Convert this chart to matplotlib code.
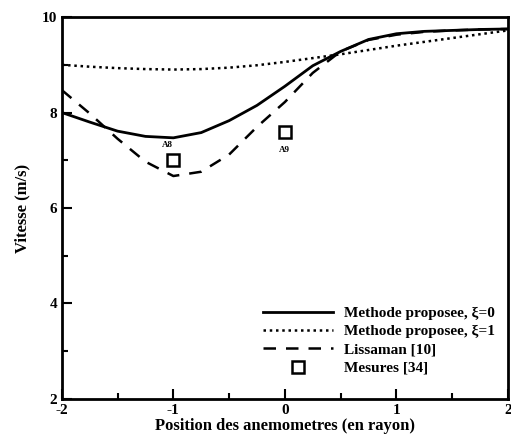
import matplotlib.pyplot as plt
from matplotlib.ticker import MultipleLocator

plt.rcParams['font.family'] = ['Liberation Serif', 'DejaVu Serif']
plt.rcParams['font.weight'] = 'bold'
plt.rcParams['axes.unicode_minus'] = False

##############################
# Donnees

x_courbes = [-2, -1.75, -1.5, -1.25, -1, -0.75, -0.5, -0.25, 0, 0.25, 0.5, 0.75, 1, 1.25, 1.5, 1.75, 2]
v_xi0 = [8.0, 7.8, 7.61, 7.5, 7.47, 7.58, 7.83, 8.15, 8.55, 8.98, 9.28, 9.53, 9.65, 9.7, 9.72, 9.74, 9.75]
v_xi1 = [9.0, 8.96, 8.93, 8.91, 8.9, 8.91, 8.94, 8.99, 9.06, 9.14, 9.22, 9.31, 9.4, 9.48, 9.56, 9.64, 9.72]
v_lissaman = [8.47, 7.98, 7.45, 6.97, 6.67, 6.76, 7.12, 7.7, 8.22, 8.83, 9.28, 9.52, 9.63, 9.69, 9.72, 9.74, 9.75]

x_mesures = [-1, 0]
v_mesures = [7.0, 7.6]
noms_mesures = ['A8', 'A9']

##############################
# Figure

fig = plt.figure(figsize=(5.11, 4.37), dpi=100)
ax = fig.add_axes([0.121, 0.087, 0.873, 0.874])

ax.plot(x_courbes, v_xi0, color='black', linestyle='-', linewidth=2, label='Methode proposee, \u03be=0')
ax.plot(x_courbes, v_xi1, color='black', linestyle=(0, (1, 1.5)), linewidth=1.8, label='Methode proposee, \u03be=1')
ax.plot(x_courbes, v_lissaman, color='black', linestyle=(0, (5, 4)), linewidth=1.8, label='Lissaman [10]')
ax.plot(x_mesures, v_mesures, linestyle='none', marker='s', markersize=8,
        markerfacecolor='white', markeredgecolor='black', markeredgewidth=1.8, label='Mesures [34]')

ax.text(x_mesures[0] - 0.05, v_mesures[0] + 0.28, noms_mesures[0], fontsize=6.5, fontweight='bold', ha='center')
ax.text(x_mesures[1], v_mesures[1] - 0.42, noms_mesures[1], fontsize=6.5, fontweight='bold', ha='center')

ax.set_xlim(-2, 2)
ax.set_ylim(2, 10)
ax.xaxis.set_major_locator(MultipleLocator(1))
ax.xaxis.set_minor_locator(MultipleLocator(0.5))
ax.yaxis.set_major_locator(MultipleLocator(2))
ax.yaxis.set_minor_locator(MultipleLocator(1))
ax.tick_params(which='both', direction='in', labelsize=11, width=1.5)
ax.tick_params(which='major', length=7)
ax.tick_params(which='minor', length=4)
for s in ax.spines.values():
    s.set_linewidth(2)

ax.set_xlabel('Position des anemometres (en rayon)', fontsize=12, fontweight='bold', labelpad=1)
ax.set_ylabel('Vitesse (m/s)', fontsize=12, fontweight='bold', labelpad=8)

leg = ax.legend(loc='lower right', bbox_to_anchor=(0.985, 0.047), frameon=False, fontsize=11,
                handlelength=4.6, labelspacing=0.3, handletextpad=0.7, borderaxespad=0)

fig.savefig('out.png', dpi=100)
